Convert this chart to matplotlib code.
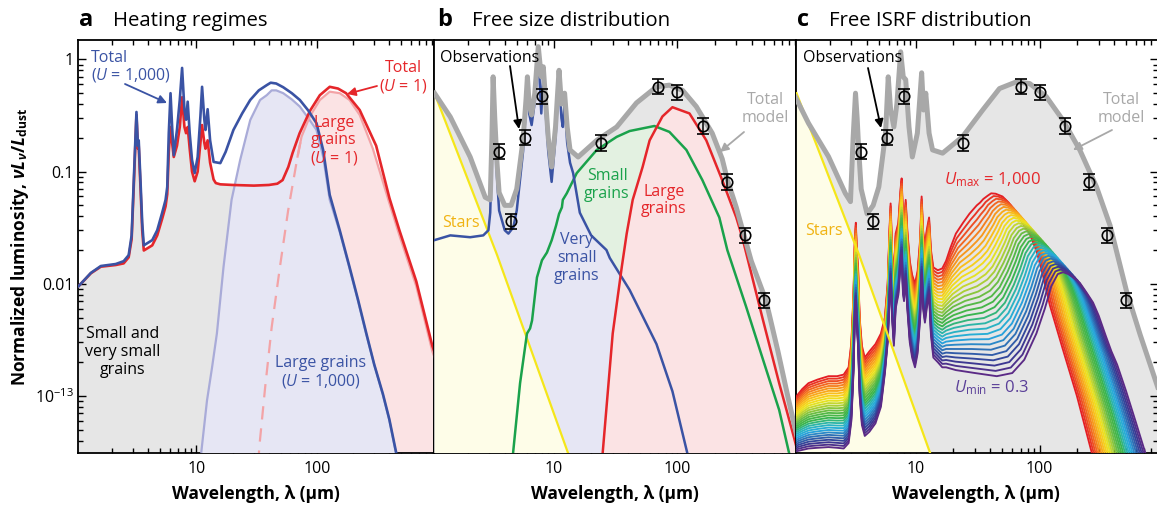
import numpy as np
import matplotlib
matplotlib.use("Agg")
import matplotlib.pyplot as plt
from matplotlib.colors import LinearSegmentedColormap
from matplotlib.ticker import FixedLocator, FixedFormatter, LogLocator, NullFormatter
from matplotlib.patches import FancyArrowPatch

plt.rcParams['font.family'] = ['Open Sans', 'DejaVu Sans']
plt.rcParams['mathtext.fontset'] = 'custom'
plt.rcParams['mathtext.rm'] = 'Open Sans'
plt.rcParams['mathtext.it'] = 'Open Sans:italic'
plt.rcParams['mathtext.bf'] = 'Open Sans:bold'
plt.rcParams['mathtext.bfit'] = 'Open Sans:italic:bold'

# ---------------- panel a: heating regimes ----------------
a_total_u1000_lam = [1.05, 1.33, 1.61, 2.14, 2.49, 2.74, 2.9, 3.03, 3.18, 3.27, 3.32, 3.44, 3.55, 3.66,
                     4.3, 4.73, 5.2, 5.55, 5.73, 5.9, 6.1, 6.29, 6.49, 6.9, 7.28, 7.61, 7.96, 8.21, 8.47,
                     8.8, 9.2, 9.68, 10.25, 10.8, 11.15, 11.65, 11.9, 12.4, 13.0, 13.9, 15.8, 17.5, 20.3,
                     24, 28, 33, 38.4, 41.4, 46, 52.6, 62, 72.3, 85, 99.4, 113, 128, 155, 187, 220, 258,
                     300, 354, 400, 454, 520]
a_total_u1000_lum = [0.0095, 0.0125, 0.0144, 0.0150, 0.0159, 0.018, 0.027, 0.09, 0.34, 0.17, 0.19, 0.08,
                     0.035, 0.022, 0.0245, 0.030, 0.043, 0.056, 0.073, 0.22, 0.5, 0.25, 0.14, 0.235, 0.435,
                     0.84, 0.354, 0.29, 0.42, 0.22, 0.127, 0.097, 0.135, 0.31, 0.57, 0.29, 0.235, 0.36,
                     0.19, 0.122, 0.119, 0.15, 0.235, 0.33, 0.435, 0.53, 0.59, 0.62, 0.61, 0.565, 0.50,
                     0.435, 0.35, 0.27, 0.155, 0.062, 0.03, 0.0141, 0.0072, 0.0036, 0.0019, 0.00104,
                     0.00062, 0.00032, 0.00015]

a_total_u1_lam = [1.05, 1.33, 1.61, 2.14, 2.49, 2.74, 2.9, 3.03, 3.18, 3.27, 3.32, 3.44, 3.55, 3.66,
                  4.3, 4.73, 5.2, 5.55, 5.73, 5.9, 6.1, 6.29, 6.49, 6.9, 7.28, 7.61, 7.96, 8.21, 8.47,
                  8.8, 9.2, 9.68, 10.25, 10.8, 11.15, 11.65, 11.9, 12.4, 13.0, 13.9, 14.5, 15.8, 20,
                  30, 40, 47, 52, 58, 63, 72, 88, 106, 128, 150, 175, 227, 311, 401, 485, 670, 910, 1000]
a_total_u1_lum = [0.0095, 0.0124, 0.0142, 0.0147, 0.0152, 0.0172, 0.025, 0.08, 0.32, 0.16, 0.17, 0.07,
                  0.03, 0.0198, 0.022, 0.027, 0.038, 0.049, 0.063, 0.15, 0.25, 0.18, 0.135, 0.17, 0.25,
                  0.46, 0.25, 0.22, 0.25, 0.16, 0.10, 0.082, 0.10, 0.18, 0.26, 0.18, 0.16, 0.19, 0.12,
                  0.085, 0.079, 0.077, 0.076, 0.075, 0.076, 0.078, 0.084, 0.11, 0.147, 0.22, 0.35, 0.48,
                  0.57, 0.55, 0.50, 0.354, 0.17, 0.058, 0.03, 0.0105, 0.0028, 0.0021]

a_large_u1000_lam = [10.5, 11.0, 12.25, 13.5, 14.8, 16.8, 19.6, 23.1, 28, 33.8, 38.4, 42.2, 46, 52.6, 62,
                     72.3, 85, 99.4, 113, 128, 155, 187, 220, 258, 300, 354, 400, 454, 520]
a_large_u1000_lum = [0.0001, 0.00032, 0.00091, 0.0018, 0.0036, 0.0141, 0.056, 0.127, 0.288, 0.435, 0.48,
                     0.53, 0.53, 0.50, 0.44, 0.38, 0.30, 0.235, 0.135, 0.056, 0.029, 0.0137, 0.007, 0.0035,
                     0.0019, 0.00102, 0.00061, 0.00031, 0.00015]

a_large_u1_lam = [31, 33.3, 37.2, 42.2, 49.4, 57.8, 69.2, 74.7, 87.5, 106, 128, 155, 187, 227, 292, 401,
                  485, 670, 910, 1000]
a_large_u1_lum = [0.0001, 0.00035, 0.00118, 0.0041, 0.0141, 0.045, 0.136, 0.205, 0.31, 0.435, 0.516,
                  0.50, 0.435, 0.32, 0.16, 0.052, 0.027, 0.0095, 0.0025, 0.0019]

# ---------------- panel b: free size distribution ----------------
b_total_lam = [1.08, 1.45, 2.10, 2.78, 3.05, 3.15, 3.22, 3.32, 3.46, 3.6, 4.0, 4.5, 5.0, 5.62, 5.94, 6.1,
               6.3, 6.6, 7.0, 7.47, 7.9, 8.2, 8.6, 9.0, 9.58, 10.3, 11.0, 11.5, 12.2, 12.8, 13.5, 15.7,
               22.2, 32.2, 46.6, 67.6, 86, 110, 142, 191, 230, 253, 299, 346, 395, 520, 650, 780, 920]
b_total_lum = [0.50, 0.307, 0.135, 0.059, 0.056, 0.2, 0.70, 0.3, 0.12, 0.065, 0.05, 0.05, 0.07, 0.19,
               0.435, 0.70, 0.4, 0.32, 0.5, 1.3, 0.7, 0.86, 0.4, 0.2, 0.11, 0.25, 0.8, 0.4, 0.5, 0.25,
               0.156, 0.135, 0.19, 0.25, 0.41, 0.57, 0.59, 0.53, 0.38, 0.22, 0.13, 0.085, 0.048, 0.027,
               0.016, 0.0071, 0.0025, 0.001, 0.00045]

b_vsg_lam = [1.08, 1.45, 2.10, 2.68, 2.95, 3.05, 3.15, 3.22, 3.32, 3.46, 3.6, 4.0, 4.28, 4.7, 5.0, 5.62,
             5.94, 6.1, 6.3, 6.6, 7.0, 7.47, 7.9, 8.2, 8.6, 9.0, 9.58, 10.3, 11.0, 11.5, 11.8, 12.2, 12.8,
             13.5, 14.3, 16.2, 20, 26.6, 28.3, 41, 67.6, 91, 120, 140]
b_vsg_lum = [0.0245, 0.027, 0.026, 0.027, 0.03, 0.043, 0.15, 0.6, 0.25, 0.09, 0.045, 0.03, 0.028, 0.032,
             0.045, 0.15, 0.38, 0.62, 0.33, 0.26, 0.42, 1.15, 0.33, 0.72, 0.32, 0.15, 0.081, 0.2, 0.7, 0.3,
             0.25, 0.4, 0.18, 0.12, 0.097, 0.043, 0.027, 0.02, 0.017, 0.0088, 0.0029, 0.0011, 0.00031,
             0.00012]

b_small_lam = [4.4, 4.67, 5.32, 6.05, 6.41, 6.65, 7.29, 8.0, 8.78, 9.6, 10.4, 11.0, 11.6, 11.8, 12.7,
               15.3, 22.2, 32.2, 41, 59.5, 65, 86, 118, 159, 218, 253, 360, 486, 665, 800, 900]
b_small_lum = [0.0001, 0.00031, 0.0013, 0.0036, 0.004, 0.0047, 0.0114, 0.0162, 0.019, 0.0245, 0.033,
               0.042, 0.048, 0.056, 0.064, 0.097, 0.156, 0.204, 0.23, 0.25, 0.255, 0.226, 0.156, 0.084,
               0.039, 0.02, 0.0062, 0.0022, 0.00075, 0.00031, 0.00015]

b_large_lam = [23.5, 24.8, 29.9, 35.4, 38.8, 43.4, 52.2, 59.5, 75.5, 91, 125, 171, 230, 299, 334, 486,
               665, 880, 950]
b_large_lum = [0.0001, 0.00031, 0.0036, 0.0141, 0.028, 0.056, 0.11, 0.19, 0.31, 0.375, 0.33, 0.19,
               0.084, 0.039, 0.026, 0.005, 0.0013, 0.00042, 0.0003]

stars_lam = [1.08, 3.47, 13.0, 14.0]
stars_lum = [0.5, 0.018, 0.00031, 0.00025]

obs_lam = [3.6, 4.5, 5.8, 8.0, 24, 70, 100, 160, 250, 350, 500]
obs_lum = [0.15, 0.036, 0.20, 0.47, 0.18, 0.57, 0.51, 0.255, 0.081, 0.027, 0.0071]
obs_err = 0.17  # fractional uncertainty

# ---------------- panel c: free ISRF distribution ----------------
c_total_lam = [1.06, 1.35, 1.96, 2.68, 2.95, 3.1, 3.24, 3.34, 3.44, 3.6, 4.02, 4.5, 5.0, 5.67, 5.96,
               6.23, 6.62, 7.0, 7.51, 7.88, 8.25, 8.77, 9.33, 10.25, 11.1, 11.5, 11.99, 12.75, 13.6,
               16.4, 23.8, 34.6, 47.3, 64.5, 82.9, 113, 154, 211, 288, 371, 505, 650, 783, 900]
c_total_lum = [0.46, 0.27, 0.136, 0.064, 0.054, 0.2, 0.5, 0.3, 0.156, 0.07, 0.042, 0.05, 0.073, 0.22,
               0.70, 0.354, 0.25, 0.4, 1.17, 0.7, 0.66, 0.25, 0.135, 0.22, 0.76, 0.354, 0.5, 0.22, 0.156,
               0.146, 0.205, 0.354, 0.55, 0.63, 0.61, 0.466, 0.288, 0.156, 0.073, 0.033, 0.0085, 0.0035,
               0.0019, 0.0012]

# spectra for the two ends of the radiation-field range (vertex by vertex)
u_curves = 30
umax_lam = [1.06, 1.2, 1.35, 1.6, 1.96, 2.3, 2.6, 2.85, 3.0, 3.12, 3.2, 3.26, 3.32, 3.4, 3.5, 3.65, 3.85,
            4.2, 4.7, 5.2, 5.6, 5.9, 6.1, 6.23, 6.4, 6.62, 6.84, 7.2, 7.5, 7.65, 7.85, 8.0, 8.25, 8.5,
            8.9, 9.3, 9.81, 10.3, 10.8, 11.1, 11.4, 11.8, 12.2, 12.75, 13.2, 13.8, 15.0,
            16.3, 17.5, 19, 21, 24, 27, 29, 31, 33, 35, 38, 40.5,
            44, 50, 56, 64.5, 74, 83, 95, 106, 121, 154, 200, 264, 330, 450]
umax_lum = [9.7e-4, 1.15e-3, 1.3e-3, 1.4e-3, 1.5e-3, 1.5e-3, 1.55e-3, 1.8e-3, 3.0e-3, 8e-3, 0.025, 0.035,
            0.02, 0.014, 5e-3, 2.8e-3, 2.2e-3, 2.5e-3, 2.9e-3, 3.6e-3, 5e-3, 0.01, 0.03, 0.052, 0.02,
            0.011, 0.028, 0.035, 0.07, 0.087, 0.04, 0.032, 0.056, 0.03, 0.016, 0.012, 0.01, 0.013,
            0.025, 0.06, 0.03, 0.022, 0.03, 0.039, 0.02, 0.014, 0.0132,
            0.0137, 0.016, 0.021, 0.028, 0.035, 0.042, 0.046, 0.05, 0.053, 0.057, 0.061, 0.064,
            0.0635, 0.06, 0.053, 0.042, 0.034, 0.028, 0.019, 0.012, 0.0064, 0.0026, 1.0e-3, 3.1e-4,
            1.2e-4, 2.5e-5]
umin_lam = [1.06, 1.2, 1.35, 1.6, 1.96, 2.3, 2.6, 2.85, 3.0, 3.12, 3.2, 3.26, 3.32, 3.4, 3.5, 3.65, 3.85,
            4.2, 4.7, 5.2, 5.6, 5.9, 6.1, 6.23, 6.4, 6.62, 6.84, 7.2, 7.5, 7.65, 7.85, 8.0, 8.25, 8.5,
            8.9, 9.3, 9.81, 10.3, 10.8, 11.1, 11.4, 11.8, 12.2, 12.75, 13.2, 13.8, 15.0,
            16.3, 17.5, 21, 30, 45, 60, 75, 94, 110, 124, 140, 155,
            170, 190, 211, 240, 270, 300, 340, 380, 423, 500, 600, 715, 820, 1000]
umin_lum = [3.2e-4, 3.3e-4, 3.4e-4, 3.45e-4, 3.5e-4, 3.45e-4, 3.4e-4, 3.8e-4, 6e-4, 1.6e-3, 5e-3, 7e-3,
            4e-3, 2.8e-3, 1e-3, 5.5e-4, 4.4e-4, 4.8e-4, 5.7e-4, 8e-4, 1.6e-3, 3e-3, 7e-3, 0.011, 5e-3,
            2.8e-3, 6e-3, 8e-3, 0.015, 0.018, 8e-3, 7e-3, 0.011, 6e-3, 3e-3, 2.2e-3, 1.8e-3, 2.4e-3,
            5e-3, 0.012, 6e-3, 4.5e-3, 6e-3, 8e-3, 3.5e-3, 2.2e-3, 2.0e-3,
            1.8e-3, 1.8e-3, 1.7e-3, 1.6e-3, 1.5e-3, 1.6e-3, 2.1e-3, 3.6e-3, 6e-3, 9.5e-3, 0.0122, 0.0127,
            0.0122, 0.0112, 0.0102, 0.0083, 0.0068, 0.0052, 0.0035, 0.0025, 0.0019, 0.0011, 5.8e-4,
            3.1e-4, 1.7e-4, 7e-5]
rainbow_colors = ['#e41e25', '#f15a24', '#f7941d', '#f9c41c', '#eee51f', '#a5cd39', '#5bb947', '#3ab54a',
                  '#2bb5b8', '#27a9e1', '#2e6db4', '#363c95', '#5b2a86']

# ---------------- styling ----------------
BLUE = '#3a53a4'
RED = '#e5262a'
GREEN = '#1aa24b'
GRAY_LINE = '#a8a8a8'
GRAY_FILL = '#e6e6e6'
LAV_LINE = '#a9abd8'
LAV_FILL = '#e6e6f4'
PINK_FILL = '#fbe3e4'
PINK_LINE = '#f3a3a6'
GREEN_FILL = '#e3f1e1'
YEL_LINE = '#f5e61a'
YEL_FILL = '#fefde8'
STARS_TXT = '#f0b313'
PURPLE_TXT = '#5a3f98'

W, H = 1157, 512
fig = plt.figure(figsize=(W / 100, H / 100), dpi=100)


def box(l, r, t=40, b=453):
    return [l / W, 1 - b / H, (r - l) / W, (b - t) / H]


def setup(ax, xlim, left, right):
    ax.set_xscale('log')
    ax.set_yscale('log')
    ax.set_xlim(*xlim)
    ax.set_ylim(3.1e-4, 1.49)
    ax.xaxis.set_major_locator(FixedLocator([10, 100]))
    ax.xaxis.set_major_formatter(FixedFormatter(['10', '100']))
    ax.xaxis.set_minor_locator(LogLocator(base=10, subs=np.arange(2, 10)))
    ax.xaxis.set_minor_formatter(NullFormatter())
    ax.yaxis.set_major_locator(FixedLocator([0.001, 0.01, 0.1, 1]))
    ax.yaxis.set_major_formatter(FixedFormatter(['10$^{\\mathregular{\u221213}}$', '0.01', '0.1', '1']))
    ax.yaxis.set_minor_locator(LogLocator(base=10, subs=np.arange(2, 10)))
    ax.yaxis.set_minor_formatter(NullFormatter())
    ax.tick_params(which='both', direction='in', top=True, bottom=True, left=left, right=right,
                   labelleft=left, labelright=False, width=1.0, labelsize=11.5, colors='black')
    ax.tick_params(which='major', length=6)
    ax.tick_params(which='minor', length=3.5)
    ax.tick_params(axis='x', pad=6)
    ax.tick_params(axis='y', pad=3)
    for s in ax.spines.values():
        s.set_linewidth(1.3)


def ftext(x, y, s, **kw):
    kw.setdefault('ha', 'center')
    kw.setdefault('va', 'center')
    kw.setdefault('fontsize', 11.5)
    fig.text(x / W, 1 - y / H, s, **kw)


def farrow(x0, y0, x1, y1, color):
    fig.add_artist(FancyArrowPatch((x0 / W, 1 - y0 / H), (x1 / W, 1 - y1 / H),
                                   transform=fig.transFigure, arrowstyle='-|>,head_length=5,head_width=2.5',
                                   color=color, lw=1.3, shrinkA=0, shrinkB=0))


def observations(ax):
    lum = np.array(obs_lum)
    ax.errorbar(obs_lam, lum, yerr=[lum * obs_err / (1 + obs_err), lum * obs_err], fmt='o', ms=7.5,
                mfc='none', mec='black', mew=1.2, ecolor='black', elinewidth=1.1, capsize=4.5,
                capthick=1.1, zorder=20)


BOTTOM = 1e-6
ax_a = fig.add_axes(box(78, 434))
ax_b = fig.add_axes(box(434, 796))
ax_c = fig.add_axes(box(796, 1158))
setup(ax_a, (1.04, 940), True, False)
setup(ax_b, (1.07, 910), False, False)
setup(ax_c, (1.07, 905), False, True)

# ---- panel a ----
lam1 = np.array(a_total_u1_lam)
lum1 = np.array(a_total_u1_lum)
svsg = lam1 <= 52
ax_a.fill_between(lam1[svsg], lum1[svsg], BOTTOM, color=GRAY_FILL, lw=0, zorder=1)
ax_a.fill_between(a_large_u1_lam, a_large_u1_lum, BOTTOM, color=PINK_FILL, lw=0, zorder=2)
ax_a.fill_between(a_large_u1000_lam, a_large_u1000_lum, BOTTOM, color=LAV_FILL, lw=0, zorder=3)
ax_a.plot(a_large_u1000_lam, a_large_u1000_lum, color=LAV_LINE, lw=1.6, zorder=4)
ax_a.plot(a_large_u1_lam[:8], a_large_u1_lum[:8], color=PINK_LINE, lw=1.6, ls=(0, (6, 4)), zorder=4)
ax_a.plot(a_large_u1_lam[6:], a_large_u1_lum[6:], color=PINK_LINE, lw=1.6, zorder=4)
ax_a.plot(a_total_u1_lam, a_total_u1_lum, color=RED, lw=1.9, zorder=5)
ax_a.plot(a_total_u1000_lam, a_total_u1000_lum, color=BLUE, lw=1.9, zorder=6)

# ---- panel b ----
ax_b.fill_between(b_total_lam, b_total_lum, BOTTOM, color=GRAY_FILL, lw=0, zorder=1)
ax_b.fill_between(b_small_lam, b_small_lum, BOTTOM, color=GREEN_FILL, lw=0, zorder=2)
ax_b.fill_between(b_vsg_lam, b_vsg_lum, BOTTOM, color=LAV_FILL, lw=0, zorder=3)
ax_b.fill_between(b_large_lam, b_large_lum, BOTTOM, color=PINK_FILL, lw=0, zorder=4)
ax_b.fill_between(stars_lam, stars_lum, BOTTOM, color=YEL_FILL, lw=0, zorder=5)
ax_b.plot(stars_lam, stars_lum, color=YEL_LINE, lw=1.6, zorder=6)
ax_b.plot(b_small_lam, b_small_lum, color=GREEN, lw=1.8, zorder=7)
ax_b.plot(b_vsg_lam, b_vsg_lum, color=BLUE, lw=1.8, zorder=7)
ax_b.plot(b_large_lam, b_large_lum, color=RED, lw=1.8, zorder=7)
ax_b.plot(b_total_lam, b_total_lum, color=GRAY_LINE, lw=3.6, zorder=8, solid_joinstyle='round')
observations(ax_b)

# ---- panel c ----
ax_c.fill_between(c_total_lam, c_total_lum, BOTTOM, color=GRAY_FILL, lw=0, zorder=1)
ax_c.fill_between(stars_lam, stars_lum, BOTTOM, color=YEL_FILL, lw=0, zorder=2)
cmap = LinearSegmentedColormap.from_list('isrf', rainbow_colors)
hi_x, hi_y = np.log10(umax_lam), np.log10(umax_lum)
lo_x, lo_y = np.log10(umin_lam), np.log10(umin_lum)
for k in range(u_curves):
    t = k / (u_curves - 1)
    ax_c.plot(10 ** ((1 - t) * hi_x + t * lo_x), 10 ** ((1 - t) * hi_y + t * lo_y),
              color=cmap(t), lw=1.35, zorder=3 + t, solid_joinstyle='round')
ax_c.plot(stars_lam, stars_lum, color=YEL_LINE, lw=1.6, zorder=6)
ax_c.plot(c_total_lam, c_total_lum, color=GRAY_LINE, lw=3.6, zorder=8, solid_joinstyle='round')
observations(ax_c)

# ---- titles and labels ----
for x0, x1, letter, title in [(79, 113, 'a', 'Heating regimes'), (437, 472, 'b', 'Free size distribution'),
                              (797, 829, 'c', 'Free ISRF distribution')]:
    ftext(x0, 26, letter, ha='left', va='baseline', fontsize=17, fontweight='bold')
    ftext(x1, 26, title, ha='left', va='baseline', fontsize=14.7)
for xc in (256, 615, 976):
    ftext(xc, 494, 'Wavelength, \u03bb (\u00b5m)', fontsize=12.5, fontweight='bold')
ftext(20, 247, r'Normalized luminosity, $\mathbfit{\nu L}_{\mathbfit{\nu}}\mathbf{/}\mathbfit{L}_{\mathbf{dust}}$',
      rotation=90, fontsize=12.5, fontweight='bold')

# panel a annotations
ftext(91, 58, 'Total', ha='left', color=BLUE)
ftext(91, 75, r'($\mathit{U}$ = 1,000)', ha='left', color=BLUE)
farrow(125, 84, 167, 103, BLUE)
ftext(403, 68, 'Total', color=RED)
ftext(403, 86, r'($\mathit{U}$ = 1)', color=RED)
farrow(377, 86, 347, 94, RED)
ftext(334, 123, 'Large', color=RED)
ftext(334, 140, 'grains', color=RED)
ftext(334, 158, r'($\mathit{U}$ = 1)', color=RED)
ftext(123, 334, 'Small and')
ftext(123, 352, 'very small')
ftext(123, 370, 'grains')
ftext(321, 363, 'Large grains', color=BLUE)
ftext(321, 381, r'($\mathit{U}$ = 1,000)', color=BLUE)

# panel b annotations
ftext(440, 58, 'Observations', ha='left')
farrow(510, 66, 519, 129, 'black')
ftext(442, 223, 'Stars', ha='left', color=STARS_TXT)
ftext(577, 240, 'Very', color=BLUE)
ftext(577, 258, 'small', color=BLUE)
ftext(577, 276, 'grains', color=BLUE)
ftext(607, 176, 'Small', color=GREEN)
ftext(607, 194, 'grains', color=GREEN)
ftext(664, 192, 'Large', color=RED)
ftext(664, 209, 'grains', color=RED)
ftext(765, 100, 'Total', color=GRAY_LINE)
ftext(765, 118, 'model', color=GRAY_LINE)
farrow(744, 132, 720, 152, GRAY_LINE)

# panel c annotations
ftext(803, 58, 'Observations', ha='left')
farrow(868, 68, 881, 128, 'black')
ftext(805, 231, 'Stars', ha='left', color=STARS_TXT)
ftext(1121, 100, 'Total', color=GRAY_LINE)
ftext(1121, 118, 'model', color=GRAY_LINE)
farrow(1112, 130, 1073, 150, GRAY_LINE)
ftext(992, 180, r'$\mathit{U}_{\mathrm{max}}$ = 1,000', color=RED, fontsize=12)
ftext(992, 388, r'$\mathit{U}_{\mathrm{min}}$ = 0.3', color=PURPLE_TXT, fontsize=12)

fig.savefig('out.png', dpi=100)
